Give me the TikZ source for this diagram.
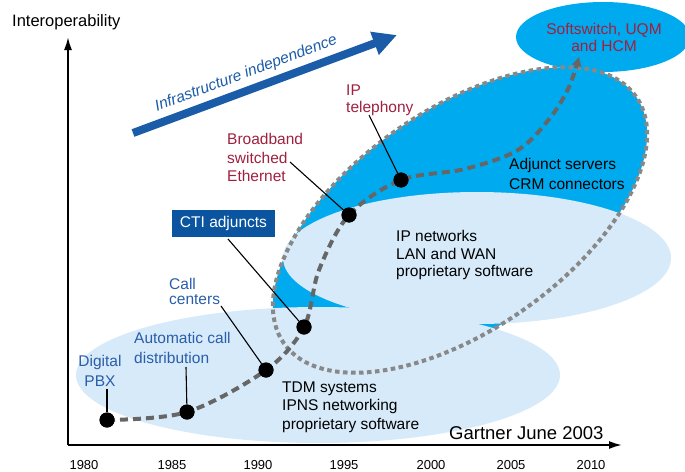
\documentclass[tikz,border=0pt]{standalone}
\usepackage{fontspec}
\setmainfont{Liberation Sans}
\usetikzlibrary{arrows.meta}
\definecolor{brightblue}{HTML}{00AAEE}
\definecolor{lightblue}{HTML}{D6EAFA}
\definecolor{dotgrey}{HTML}{888888}
\definecolor{dashgrey}{HTML}{666666}
\definecolor{arrowblue}{HTML}{1A5CA8}
\definecolor{ctiblue}{HTML}{0B55A0}
\definecolor{labelred}{HTML}{A0203F}
\definecolor{labelblue}{HTML}{2A5DAA}
\begin{document}
\begin{tikzpicture}[x=1pt,y=-1pt,
  lbl/.style={inner sep=0pt, align=left, anchor=west, font=\fontsize{15.5}{18.5}\selectfont},
  yearlbl/.style={inner sep=0pt, font=\fontsize{13}{15}\selectfont},
  dot/.style={circle, fill=black, inner sep=0pt, minimum size=15pt},
  ptr/.style={draw=black, line width=1.1pt},
  axisline/.style={draw=black, line width=1.8pt, -{Latex[length=13pt,width=8pt]}},
  dashpath/.style={draw=dashgrey, line width=4pt, dash pattern=on 8pt off 5pt, -{Triangle[length=9pt,width=9pt]}},
  dotoutline/.style={draw=dotgrey, line width=4pt, dash pattern=on 4.5pt off 3.5pt}
]
\useasboundingbox (0,0) rectangle (685,471);

% big tilted ellipse fill
\fill[brightblue, rotate around={35:(460,220)}] (460,220) ellipse [x radius=215pt, y radius=110pt];
% softswitch ellipse
\fill[brightblue] (603,37) ellipse [x radius=87pt, y radius=35pt];
% light ellipses
\fill[lightblue] (318,375) ellipse [x radius=242pt, y radius=68pt];
\fill[lightblue] (477,258) ellipse [x radius=194pt, y radius=66pt];
% dotted outline
\draw[dotoutline, rotate around={35:(460,220)}] (460,220) ellipse [x radius=215pt, y radius=110pt];

% axes
\coordinate (O) at (68,445);
\coordinate (ytop) at (68,37);
\coordinate (xend) at (622,445);
\draw[axisline] (O) -- (ytop);
\draw[axisline] (O) -- (xend);
\node[inner sep=0pt, anchor=west, font=\fontsize{16.5}{19}\selectfont] (ylab) at (12,22.5) {Interoperability};

% years
\node[yearlbl] (y1980) at (84,465) {1980};
\node[yearlbl] (y1985) at (172,465) {1985};
\node[yearlbl] (y1990) at (258,465) {1990};
\node[yearlbl] (y1995) at (344,465) {1995};
\node[yearlbl] (y2000) at (431,465) {2000};
\node[yearlbl] (y2005) at (511,465) {2005};
\node[yearlbl] (y2010) at (591,465) {2010};

% infrastructure arrow
\coordinate (infA) at (133,133);
\coordinate (infB) at (397,35);
\draw[arrowblue, line width=8pt, -{Triangle[length=24pt,width=23pt]}] (infA) -- node[pos=0.45, sloped, anchor=south, above=5pt, inner sep=0pt, text=arrowblue, font=\fontsize{15.5}{18}\selectfont\itshape] (infl) {Infrastructure independence} (infB);

% dots
\node[dot] (A) at (107,420) {};
\node[dot] (B) at (187,412) {};
\node[dot] (C) at (266,370) {};
\node[dot] (D) at (304,327) {};
\node[dot] (E) at (349,215) {};
\node[dot] (F) at (401,180) {};
\coordinate (G) at (579,57);

% dashed evolution path
\draw[dashpath] plot[smooth, tension=0.55] coordinates {(A.center) (B.center) (C.center) (D.center) (319,270) (E.center) (F.center) (465,169) (518,150) (550,118) (569,87) (G)};
% redraw dots on top
\foreach \n in {A,B,C,D,E,F} \fill[black] (\n) circle (7.5pt);

% pointers
\coordinate (pDig) at (107,389);
\coordinate (pACD) at (186,367);
\coordinate (pCall) at (221,306);
\coordinate (pCTI) at (228,239);
\coordinate (pBB) at (290,162);
\coordinate (pIPT) at (369,115);
\draw[ptr] (pDig) -- (A);
\draw[ptr] (pACD) -- (B);
\draw[ptr] (pCall) -- (C);
\draw[ptr] (pCTI) -- (D);
\draw[ptr] (pBB) -- (E);
\draw[ptr] (pIPT) -- (F);

% labels
\node[lbl, text=labelblue, align=center, anchor=center, font=\fontsize{15.5}{20.5}\selectfont] (dig) at (100,371) {Digital\\PBX};
\node[lbl, text=labelblue, font=\fontsize{15.5}{20}\selectfont] (acd) at (134,347.5) {Automatic call\\distribution};
\node[lbl, text=labelblue, font=\fontsize{15.5}{15}\selectfont] (call) at (169,291) {Call\\centers};
\node[fill=ctiblue, text=white, minimum width=103pt, minimum height=27pt, inner sep=0pt, font=\fontsize{15.5}{18}\selectfont] (cti) at (223.5,223.5) {CTI adjuncts};
\node[lbl, text=labelred] (bb) at (227,157.5) {Broadband\\switched\\Ethernet};
\node[lbl, text=labelred, font=\fontsize{15.5}{17}\selectfont] (ipt) at (346,100) {IP\\telephony};
\node[lbl, text=labelred, align=center, anchor=center, font=\fontsize{15.5}{17}\selectfont] (soft) at (604,37) {Softswitch, UQM\\and HCM};
\node[lbl] (tdm) at (282,407) {TDM systems\\IPNS networking\\proprietary software};
\node[lbl, font=\fontsize{15.5}{17.5}\selectfont] (ipn) at (396,255) {IP networks\\LAN and WAN\\proprietary software};
\node[lbl, font=\fontsize{15.5}{20}\selectfont] (adj) at (509,174) {Adjunct servers\\CRM connectors};
\node[inner sep=0pt, anchor=west, font=\fontsize{18.5}{21}\selectfont] (gart) at (449,433.5) {Gartner June 2003};
\end{tikzpicture}
\end{document}
